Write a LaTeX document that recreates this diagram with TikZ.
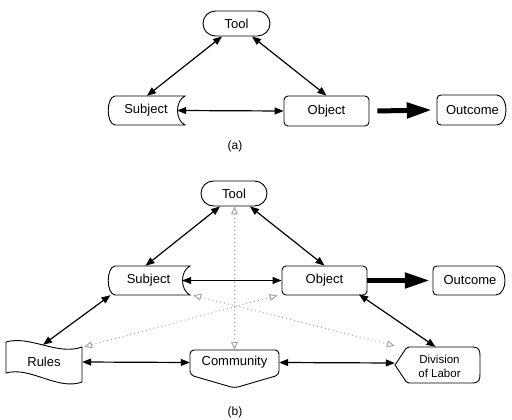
\documentclass[tikz,border=0pt]{standalone}
\usepackage{fontspec}
\setmainfont{Liberation Sans}
\usetikzlibrary{arrows.meta}
\begin{document}
\begin{tikzpicture}[x=1pt,y=-1pt,
  lbl/.style={inner sep=0pt, font=\fontsize{13}{15}\selectfont},
  shp/.style={draw=black, line width=0.9pt, fill=white},
  dbl/.style={{Triangle[length=9pt,width=7pt]}-{Triangle[length=9pt,width=7pt]}, line width=1.2pt},
  fat/.style={-{Triangle[length=25pt,width=15pt]}, line width=5pt},
  dots/.style={{Triangle[open,length=8pt,width=7pt]}-{Triangle[open,length=8pt,width=7pt]}, draw=black!35, line width=1pt, dash pattern=on 1pt off 3pt}
]
\useasboundingbox (0,0) rectangle (512,420);

% ---------- (a) ----------
\node[shp, lbl, rounded corners=12.5pt, minimum width=67pt, minimum height=25pt] (toolA) at (236.5,23.5) {Tool};
\draw[shp] (115,96) -- (185,96) .. controls (175,101) and (175,120) .. (185,125) -- (115,125) .. controls (106,124) and (106,97) .. (115,96) -- cycle;
\node[lbl, minimum width=78pt, minimum height=29pt] (subjA) at (146,110.5) {Subject};
\node[shp, lbl, rounded corners=4pt, minimum width=85pt, minimum height=30pt] (objA) at (326.5,111) {Object};
\draw[shp] (437,99) -- (437,121) .. controls (437,123.5) and (438.5,125) .. (441,125) -- (497,125) .. controls (509,124) and (509,96) .. (497,95) -- (441,95) .. controls (438.5,95) and (437,96.5) .. (437,99) -- cycle;
\node[lbl, minimum width=71pt, minimum height=30pt] (outA) at (472.5,110) {Outcome};
\node[lbl, font=\fontsize{12}{14}\selectfont] (capA) at (235,146) {(a)};

\draw[dbl] ([xshift=-14.5pt]toolA.south) -- ([xshift=1pt]subjA.north);
\draw[dbl] ([xshift=15.5pt]toolA.south) -- (objA.north);
\draw[dbl] ([xshift=-8pt]subjA.east) -- (objA.west);
\draw[fat] ([xshift=8pt]objA.east) -- ([xshift=-5pt]outA.west);

% ---------- (b) ----------
\node[shp, lbl, rounded corners=12.5pt, minimum width=66pt, minimum height=25pt] (toolB) at (234,193.5) {Tool};
\draw[shp] (115,266) -- (190,266) .. controls (180,271) and (180,290) .. (190,295) -- (115,295) .. controls (106,294) and (106,267) .. (115,266) -- cycle;
\node[lbl, minimum width=83pt, minimum height=29pt] (subjB) at (148.5,280.5) {Subject};
\node[shp, lbl, rounded corners=4pt, minimum width=85pt, minimum height=29pt] (objB) at (324.5,280.5) {Object};
\draw[shp] (433,270) -- (433,291) .. controls (433,293.5) and (434.5,295) .. (437,295) -- (496,295) .. controls (508,294) and (508,267) .. (496,266) -- (437,266) .. controls (434.5,266) and (433,267.5) .. (433,270) -- cycle;
\node[lbl, minimum width=74pt, minimum height=29pt] (outB) at (470,280.5) {Outcome};

\draw[shp] (6,342) .. controls (30,335) and (58,356) .. (82,347) -- (82,382) .. controls (58,391) and (30,366) .. (6,373) -- cycle;
\node[lbl, minimum width=76pt, minimum height=36pt] (rules) at (44,362) {Rules};

\draw[shp, rounded corners=4pt] (190,350) -- (279,350) -- (279,375) -- (234.5,388) -- (190,375) -- cycle;
\node[lbl, minimum width=89pt, minimum height=25pt] (comm) at (234.5,362.5) {Community};

\draw[shp] (395,365) -- (406,348.5) .. controls (407,347.5) and (407.5,347) .. (409,347) -- (472,347) .. controls (479,347) and (480,350) .. (480,356) -- (480,374) .. controls (480,380) and (479,383) .. (472,383) -- (409,383) .. controls (407.5,383) and (407,382.5) .. (406,381.5) -- cycle;
\node[lbl, font=\fontsize{11.5}{14}\selectfont, align=center, minimum width=85pt, minimum height=36pt] (div) at (439.5,366) {Division\\of Labor};

\node[lbl, font=\fontsize{12}{14}\selectfont] (capB) at (235,412) {(b)};

\draw[dbl] ([xshift=-14pt]toolB.south) -- ([xshift=-3pt]subjB.north);
\draw[dbl] ([xshift=16pt]toolB.south) -- (objB.north);
\draw[dbl] ([xshift=-8pt]subjB.east) -- (objB.west);
\draw[fat] (objB.east) -- ([xshift=-3pt]outB.west);
\draw[dbl] ([xshift=-38pt]subjB.south) -- ([xshift=-1pt,yshift=-1pt]rules.north);
\draw[dbl] ([xshift=34.5pt,yshift=1pt]objB.south) -- ([xshift=-4pt,yshift=1pt]div.north);
\draw[dbl] (rules.east) -- (comm.west);
\draw[dbl] (comm.east) -- ([xshift=-2pt,yshift=3pt]div.west);

\draw[dots] ([xshift=2pt,yshift=-3pt]rules.north east) -- ([xshift=-4pt]objB.south west);
\draw[dots] ([xshift=3pt]subjB.south east) -- ([xshift=-2pt,yshift=2pt]div.north west);
\draw[dots] ([xshift=0.5pt]toolB.south) -- (comm.north);
\end{tikzpicture}
\end{document}
